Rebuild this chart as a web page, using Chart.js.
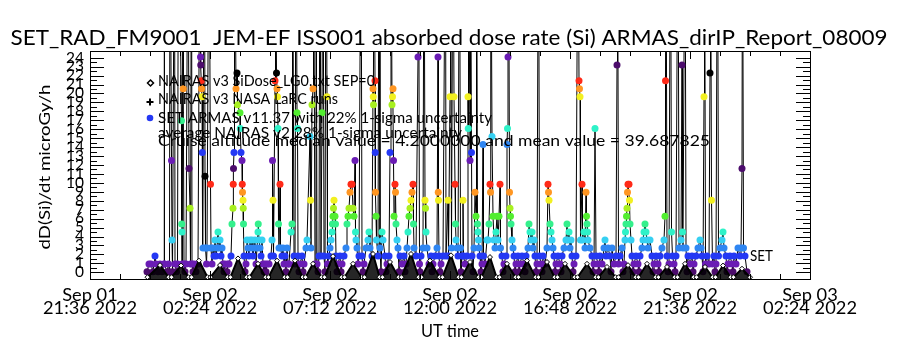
<!DOCTYPE html>
<html><head><meta charset="utf-8">
<script src="https://cdn.jsdelivr.net/npm/chart.js@4.4.1/dist/chart.umd.min.js"></script>
<style>html,body{margin:0;padding:0;background:#fff;}#wrap{width:900px;height:350px;}</style>
</head><body><div id="wrap"><canvas id="c" width="900" height="350"></canvas></div>
<script>
// ---------------- data ----------------
const titleText = 'SET_RAD_FM9001  JEM-EF ISS001 absorbed dose rate (Si) ARMAS_dirIP_Report_08009';
const yAxisTitle = 'dD(Si)/dt microGy/h';
const xAxisTitle = 'UT time';
// hours after Sep 01 21:36 UT
const xTickHours = [0, 4.8, 9.6, 14.4, 19.2, 24.0, 28.8];
const xTickLabels = [['Sep 01','21:36 2022'],['Sep 02','02:24 2022'],['Sep 02','07:12 2022'],['Sep 02','12:00 2022'],['Sep 02','16:48 2022'],['Sep 02','21:36 2022'],['Sep 03','02:24 2022']];
const yTickValues = [0,1,2,3,4,5,6,7,8,9,10,11,12,13,14,15,16,17,18,19,20,21,22,23,24];
const yRange = [-0.75, 24.75];
const legendLines = [
  'NAIRAS v3 SiDose_LG0.txt SEP=0',
  'NAIRAS v3 NASA LaRC runs',
  'SET ARMAS v11.37 with 22% 1-sigma uncertainty',
  'average NAIRAS v2 28% 1-sigma uncertainty',
  'Cruise altitude median value = 4.2000000 and mean value = 39.687825'
];
const sideLabel = 'SET';
// SET measured dose rate [hours after start, microGy/h]
const setSamples = [[2.28,0.05],[2.36,0.94],[2.44,0.94],[2.52,0.05],[2.60,1.83],[2.64,0.94],[2.72,0.05],[2.80,0.94],[2.88,0.05],[2.96,0.94],[2.97,45],[2.98,0.94],[3.08,0.05],[3.14,0.94],[3.18,0.05],[3.20,45],[3.26,12.51],[3.28,3.61],[3.30,0.05],[3.38,45],[3.40,0.94],[3.46,0.05],[3.50,0.94],[3.54,45],[3.66,16.96],[3.67,5.39],[3.68,4.5],[3.69,0.94],[3.72,45],[3.73,20.52],[3.76,0.94],[3.80,0.05],[3.84,0.94],[3.92,45],[3.96,11.62],[4.00,7.17],[4.02,0.94],[4.06,45],[4.08,0.94],[4.12,0.05],[4.16,0.94],[4.24,0.05],[4.32,0.94],[4.40,45],[4.42,24.08],[4.43,23.19],[4.45,21.41],[4.46,20.52],[4.48,19.63],[4.49,13.4],[4.52,2.72],[4.58,45],[4.60,10.73],[4.62,2.72],[4.66,0.94],[4.68,2.72],[4.76,45],[4.82,9.84],[4.84,2.72],[4.88,0.94],[4.92,2.72],[4.96,1.83],[5.00,3.61],[5.04,1.83],[5.08,2.72],[5.12,4.5],[5.16,2.72],[5.20,3.61],[5.24,1.83],[5.28,2.72],[5.32,0.94],[5.36,0.05],[5.40,0.94],[5.48,0.05],[5.52,0.94],[5.56,0.94],[5.64,1.83],[5.68,5.39],[5.72,7.17],[5.73,9.84],[5.74,11.62],[5.76,13.4],[5.78,45],[5.84,20.52],[5.88,22.3],[5.90,18.74],[6.00,17.85],[6.01,16.07],[6.04,13.4],[6.08,12.51],[6.09,9.84],[6.10,8.95],[6.12,8.06],[6.13,7.17],[6.14,5.39],[6.16,1.83],[6.20,0.05],[6.24,0.94],[6.28,3.61],[6.32,2.72],[6.36,1.83],[6.40,3.61],[6.44,2.72],[6.48,3.61],[6.52,1.83],[6.56,2.72],[6.60,3.61],[6.64,0.94],[6.68,2.72],[6.72,4.5],[6.73,5.39],[6.76,3.61],[6.80,2.72],[6.84,1.83],[6.88,3.61],[6.92,0.94],[6.96,0.05],[7.00,0.94],[7.04,0.05],[7.08,0.94],[7.16,0.94],[7.24,1.83],[7.28,3.61],[7.30,12.51],[7.32,8.06],[7.34,1.83],[7.40,21.41],[7.42,45],[7.46,22.3],[7.48,20.52],[7.50,19.63],[7.52,16.07],[7.54,5.39],[7.56,2.72],[7.60,9.84],[7.62,2.72],[7.68,1.83],[7.72,2.72],[7.76,0.94],[7.80,1.83],[7.84,0.05],[7.88,2.72],[7.92,0.94],[7.96,0.94],[8.04,4.5],[8.08,5.39],[8.10,45],[8.16,1.83],[8.20,0.94],[8.24,45],[8.28,17.85],[8.30,16.07],[8.32,1.83],[8.36,0.05],[8.40,0.94],[8.48,1.83],[8.52,0.05],[8.56,0.94],[8.64,2.72],[8.68,3.61],[8.80,15.18],[8.82,8.06],[8.84,2.72],[8.88,18.74],[8.92,20.52],[8.94,45],[9.00,0.94],[9.04,45],[9.08,0.94],[9.12,0.05],[9.16,1.83],[9.20,45],[9.24,1.83],[9.28,17.85],[9.32,45],[9.36,1.83],[9.40,0.05],[9.44,45],[9.48,19.63],[9.50,0.94],[9.56,1.83],[9.60,2.72],[9.64,3.61],[9.68,4.5],[9.70,5.39],[9.72,6.28],[9.74,7.17],[9.76,8.06],[9.80,6.28],[9.82,5.39],[9.84,1.83],[9.88,0.05],[9.92,0.94],[10.00,1.83],[10.04,0.05],[10.08,0.94],[10.16,1.83],[10.24,2.72],[10.28,5.39],[10.32,6.28],[10.36,7.17],[10.40,8.95],[10.44,9.84],[10.48,9.84],[10.52,7.17],[10.56,6.28],[10.60,12.51],[10.62,4.5],[10.64,3.61],[10.68,2.72],[10.72,0.94],[10.76,1.83],[10.84,45],[10.88,1.83],[10.92,0.05],[10.96,0.94],[11.04,2.72],[11.12,3.61],[11.16,4.5],[11.20,2.72],[11.28,1.83],[11.32,20.52],[11.33,19.63],[11.34,18.74],[11.36,45],[11.40,21.41],[11.41,13.4],[11.42,8.95],[11.44,6.28],[11.46,3.61],[11.52,1.83],[11.56,45],[11.60,2.72],[11.64,0.05],[11.68,4.5],[11.72,3.61],[11.80,1.83],[11.84,0.05],[11.88,0.94],[11.96,1.83],[12.00,13.4],[12.04,45],[12.08,18.74],[12.10,19.63],[12.12,20.52],[12.14,12.51],[12.16,6.28],[12.20,9.84],[12.22,8.95],[12.24,5.39],[12.28,3.61],[12.32,2.72],[12.36,0.05],[12.40,1.83],[12.48,0.94],[12.56,1.83],[12.60,0.05],[12.64,0.94],[12.68,2.72],[12.72,4.5],[12.76,6.28],[12.80,7.17],[12.84,8.06],[12.88,8.95],[12.92,9.84],[12.94,5.39],[12.96,2.72],[13.04,1.83],[13.12,24.08],[13.14,45],[13.18,0.94],[13.20,0.05],[13.24,1.83],[13.32,2.72],[13.36,45],[13.40,8.06],[13.42,7.17],[13.44,4.5],[13.48,2.72],[13.56,0.94],[13.64,1.83],[13.68,0.05],[13.72,0.94],[13.80,1.83],[13.88,2.72],[13.92,24.08],[13.93,8.95],[13.94,8.06],[13.96,1.83],[14.00,0.05],[14.04,0.94],[14.12,1.83],[14.22,45],[14.24,1.83],[14.32,8.06],[14.34,1.83],[14.40,19.63],[14.42,45],[14.46,2.72],[14.52,45],[14.56,19.63],[14.60,9.84],[14.62,5.39],[14.64,3.61],[14.68,2.72],[14.72,1.83],[14.78,45],[14.82,2.72],[14.84,0.05],[14.88,1.83],[14.92,8.06],[14.94,1.83],[15.00,0.94],[15.08,1.83],[15.12,19.63],[15.13,16.07],[15.14,45],[15.20,12.51],[15.22,45],[15.26,13.4],[15.28,1.83],[15.32,0.05],[15.36,2.72],[15.40,8.95],[15.44,6.28],[15.46,45],[15.50,5.39],[15.52,4.5],[15.54,3.61],[15.56,2.72],[15.60,1.83],[15.64,0.05],[15.68,0.94],[15.72,14.29],[15.74,1.83],[15.80,0.94],[15.88,3.61],[15.92,3.61],[15.96,5.39],[16.00,9.84],[16.02,8.95],[16.04,45],[16.08,15.18],[16.12,6.28],[16.16,3.61],[16.20,2.72],[16.24,4.5],[16.28,6.28],[16.32,3.61],[16.36,6.28],[16.40,9.84],[16.42,2.72],[16.48,1.83],[16.52,0.05],[16.56,0.94],[16.64,1.83],[16.68,14.29],[16.70,16.07],[16.72,24.08],[16.74,45],[16.78,8.95],[16.80,7.17],[16.82,6.28],[16.84,5.39],[16.88,3.61],[16.92,2.72],[16.96,1.83],[17.00,0.05],[17.04,0.94],[17.12,1.83],[17.16,0.05],[17.20,0.94],[17.28,1.83],[17.36,0.94],[17.40,0.05],[17.44,1.83],[17.52,2.72],[17.56,5.39],[17.60,4.5],[17.64,3.61],[17.68,4.5],[17.72,2.72],[17.76,3.61],[17.80,1.83],[17.84,0.05],[17.88,0.94],[17.94,45],[17.98,1.83],[18.04,0.94],[18.08,0.05],[18.12,1.83],[18.20,0.94],[18.28,2.72],[18.32,9.84],[18.34,8.95],[18.36,8.06],[18.40,5.39],[18.44,4.5],[18.48,3.61],[18.52,2.72],[18.56,1.83],[18.60,0.05],[18.64,0.94],[18.72,1.83],[18.80,0.94],[18.84,0.05],[18.88,1.83],[18.96,2.72],[19.04,3.61],[19.08,5.39],[19.12,3.61],[19.16,4.5],[19.20,2.72],[19.24,3.61],[19.28,1.83],[19.32,0.05],[19.36,0.94],[19.44,1.83],[19.52,45],[19.56,21.41],[19.58,20.52],[19.60,19.63],[19.62,3.61],[19.68,9.84],[19.70,3.61],[19.76,4.5],[19.80,2.72],[19.84,8.95],[19.86,6.28],[19.88,5.39],[19.90,4.5],[19.92,3.61],[20.00,2.72],[20.08,1.83],[20.12,0.05],[20.16,0.94],[20.20,16.07],[20.24,1.83],[20.32,0.94],[20.36,0.05],[20.40,1.83],[20.48,0.94],[20.56,2.72],[20.60,3.61],[20.64,1.83],[20.72,2.72],[20.80,1.83],[20.84,0.05],[20.88,2.72],[20.96,0.94],[21.04,1.83],[21.08,23.19],[21.10,45],[21.14,0.94],[21.20,1.83],[21.28,2.72],[21.32,0.05],[21.36,0.94],[21.40,3.61],[21.42,4.5],[21.44,5.39],[21.46,6.28],[21.48,7.17],[21.50,8.95],[21.52,9.84],[21.56,9.84],[21.58,8.06],[21.60,5.39],[21.64,3.61],[21.68,1.83],[21.72,0.05],[21.76,0.94],[21.84,1.83],[21.92,0.94],[21.96,0.05],[22.00,1.83],[22.08,2.72],[22.12,3.61],[22.16,4.5],[22.20,5.39],[22.24,4.5],[22.28,3.61],[22.32,2.72],[22.40,3.61],[22.48,1.83],[22.52,0.05],[22.56,0.94],[22.64,1.83],[22.72,0.94],[22.76,0.05],[22.80,1.83],[22.88,2.72],[22.96,3.61],[23.00,6.28],[23.02,21.41],[23.04,45],[23.08,1.83],[23.12,0.05],[23.16,0.94],[23.22,45],[23.26,4.5],[23.30,1.83],[23.36,0.94],[23.40,0.05],[23.44,1.83],[23.52,45],[23.56,2.72],[23.64,3.61],[23.68,23.19],[23.70,4.5],[23.72,2.72],[23.80,45],[23.84,2.72],[23.88,0.05],[23.92,1.83],[24.00,0.94],[24.08,1.83],[24.12,0.05],[24.16,0.94],[24.24,1.83],[24.32,2.72],[24.40,3.61],[24.44,2.72],[24.48,1.83],[24.52,0.05],[24.56,19.63],[24.58,45],[24.62,0.94],[24.68,1.83],[24.76,0.94],[24.80,22.3],[24.82,45],[24.86,8.06],[24.90,0.94],[24.96,1.83],[25.00,0.05],[25.04,0.94],[25.10,45],[25.14,1.83],[25.20,2.72],[25.28,3.61],[25.32,4.5],[25.36,2.72],[25.44,1.83],[25.48,0.05],[25.52,0.94],[25.60,1.83],[25.68,0.94],[25.72,0.05],[25.76,1.83],[25.84,0.94],[25.92,2.72],[26.00,1.83],[26.04,2.72],[26.08,11.62],[26.10,45],[26.14,2.72],[26.20,1.83],[26.28,0.05]];
// NAIRAS v3 model dose rate [hours after start, microGy/h]
const nairasSamples = [[2.30,-0.55],[2.80,0.8],[3.14,-0.55],[3.26,-0.55],[3.64,0.75],[3.94,-0.55],[4.06,-0.55],[4.36,1.3],[4.70,-0.55],[4.82,-0.55],[5.20,0.8],[5.50,-0.55],[5.62,-0.55],[5.92,1.55],[6.26,-0.55],[6.38,-0.55],[6.72,0.95],[7.02,-0.55],[7.14,-0.55],[7.48,1.3],[7.78,-0.55],[7.90,-0.55],[8.20,1.3],[8.50,-0.55],[8.62,-0.55],[8.92,0.95],[9.26,-0.55],[9.38,-0.55],[9.72,1.8],[10.06,-0.55],[10.18,-0.55],[10.52,0.95],[10.86,-0.55],[10.98,-0.55],[11.32,2.05],[11.58,-0.55],[11.70,-0.55],[12.00,1.15],[12.34,-0.55],[12.46,-0.55],[12.84,2.05],[13.14,-0.55],[13.26,-0.55],[13.60,1.3],[13.98,-0.55],[14.10,-0.55],[14.44,1.9],[14.74,-0.55],[14.86,-0.55],[15.20,1.15],[15.54,-0.55],[15.66,-0.55],[16.00,1.7],[16.26,-0.55],[16.38,-0.55],[16.68,0.95],[17.02,-0.55],[17.14,-0.55],[17.48,1.3],[17.82,-0.55],[17.94,-0.55],[18.28,1.15],[18.58,-0.55],[18.70,-0.55],[19.00,0.95],[19.38,-0.55],[19.50,-0.55],[19.88,0.95],[20.22,-0.55],[20.34,-0.55],[20.68,0.6],[21.02,-0.55],[21.14,-0.55],[21.52,0.8],[21.82,-0.55],[21.94,-0.55],[22.28,0.95],[22.62,-0.55],[22.74,-0.55],[23.08,0.6],[23.38,-0.55],[23.50,-0.55],[23.80,0.95],[24.14,-0.55],[24.26,-0.55],[24.60,0.6],[24.90,-0.55],[25.02,-0.55],[25.32,0.75],[25.62,-0.55],[25.74,-0.55],[26.08,0.4],[26.40,-0.55]];

// ---------------- styles ----------------
const levelColors = ['#4c0c6c','#6a1cb4','#2438f4','#2f86f2','#36d0f2','#2ef2c8','#34f08c','#52ee30','#a8f020','#f2f020','#ff9622','#ff2a18','#000000'];
function colorFor(v){
  if (v == null) return '#000';
  const k = Math.round((v - 0.05) / 0.89);
  return levelColors[((k % 13) + 13) % 13];
}
const FONT = 'Lato, "DejaVu Sans", sans-serif';
const WEIGHT = '400';

function drawText(ctx, text, x, y, size, align, sx, rot) {
  ctx.save();
  ctx.font = WEIGHT + ' ' + size + 'px ' + FONT;
  ctx.fillStyle = '#000';
  ctx.textBaseline = 'middle';
  ctx.textAlign = align || 'left';
  ctx.translate(x, y);
  if (rot) ctx.rotate(rot);
  ctx.scale(sx, 1);
  ctx.fillText(text, 0, 0);
  ctx.restore();
}
function scaleFor(ctx, text, size, width) {
  ctx.save();
  ctx.font = WEIGHT + ' ' + size + 'px ' + FONT;
  const w = ctx.measureText(text).width;
  ctx.restore();
  return width / w;
}
function fitText(ctx, text, x, y, width, size, align, rot) {
  drawText(ctx, text, x, y, size, align, scaleFor(ctx, text, size, width), rot);
}

const decor = {
  id: 'decor',
  afterDraw(chart) {
    const ctx = chart.ctx, a = chart.chartArea;
    const xs = chart.scales.x, ys = chart.scales.y;
    ctx.save();
    // frame
    ctx.strokeStyle = '#000'; ctx.lineWidth = 1;
    ctx.strokeRect(Math.round(a.left) + 0.5, Math.round(a.top) + 0.5, Math.round(a.right - a.left), Math.round(a.bottom - a.top));
    // y ticks (inward, both sides): majors at labels, minors half way
    ctx.beginPath();
    yTickValues.forEach((v, i) => {
      const py = Math.round(ys.getPixelForValue(v)) + 0.5;
      ctx.moveTo(a.left, py); ctx.lineTo(a.left + 14, py);
      ctx.moveTo(a.right, py); ctx.lineTo(a.right - 14, py);
      if (i < yTickValues.length - 1) {
        const pm = Math.round(ys.getPixelForValue((v + yTickValues[i + 1]) / 2)) + 0.5;
        ctx.moveTo(a.left, pm); ctx.lineTo(a.left + 7, pm);
        ctx.moveTo(a.right, pm); ctx.lineTo(a.right - 7, pm);
      }
    });
    // x ticks (inward, top and bottom): majors at labels, 3 minors between
    xTickHours.forEach((h, i) => {
      const px = Math.round(xs.getPixelForValue(h)) + 0.5;
      ctx.moveTo(px, a.bottom); ctx.lineTo(px, a.bottom - 8);
      ctx.moveTo(px, a.top); ctx.lineTo(px, a.top + 8);
      if (i < xTickHours.length - 1) {
        for (let k = 1; k < 4; k++) {
          const pm = Math.round(xs.getPixelForValue(h + (xTickHours[i + 1] - h) * k / 4)) + 0.5;
          ctx.moveTo(pm, a.bottom); ctx.lineTo(pm, a.bottom - 5);
          ctx.moveTo(pm, a.top); ctx.lineTo(pm, a.top + 5);
        }
      }
    });
    ctx.stroke();
    // tick labels
    const syY = scaleFor(ctx, '24', 15, 18);
    yTickValues.forEach(v => {
      drawText(ctx, String(v), a.left - 6, ys.getPixelForValue(v), 15, 'right', syY);
    });
    const sxX = scaleFor(ctx, '21:36 2022', 17, 94);
    xTickHours.forEach((h, i) => {
      const px = xs.getPixelForValue(h);
      drawText(ctx, xTickLabels[i][0], px, 296, 17, 'center', sxX);
      drawText(ctx, xTickLabels[i][1], px, 309, 17, 'center', sxX);
    });
    // title and axis titles
    fitText(ctx, titleText, 449, 38, 877, 21, 'center');
    fitText(ctx, xAxisTitle, 450, 332, 58, 17, 'center');
    fitText(ctx, yAxisTitle, 45, 167, 165, 16, 'center', -Math.PI / 2);
    // legend
    const lx = 158;
    fitText(ctx, legendLines[0], lx, 81, 217, 15, 'left');
    fitText(ctx, legendLines[1], lx, 99, 180, 15, 'left');
    fitText(ctx, legendLines[2], lx, 118, 334, 15, 'left');
    fitText(ctx, legendLines[3], lx, 133, 304, 15, 'left');
    fitText(ctx, legendLines[4], lx, 141, 552, 15, 'left');
    fitText(ctx, sideLabel, 750, 256, 23, 15, 'left');
    // legend symbols
    ctx.lineWidth = 1.5; ctx.strokeStyle = '#000';
    ctx.beginPath();
    ctx.moveTo(150.5, 80); ctx.lineTo(153.5, 83); ctx.lineTo(150.5, 86); ctx.lineTo(147.5, 83); ctx.closePath();
    ctx.stroke();
    ctx.lineWidth = 2;
    ctx.beginPath();
    ctx.moveTo(146.5, 102); ctx.lineTo(153.5, 102);
    ctx.moveTo(150, 98.5); ctx.lineTo(150, 105.5);
    ctx.stroke();
    ctx.fillStyle = '#2438f4';
    ctx.beginPath(); ctx.arc(150, 118, 3.3, 0, Math.PI * 2); ctx.fill();
    ctx.restore();
  }
};

new Chart(document.getElementById('c'), {
  type: 'line',
  data: {
    datasets: [
      {
        label: 'NAIRAS v3 SiDose',
        data: nairasSamples.map(p => ({x: p[0], y: p[1]})),
        borderColor: '#000', borderWidth: 2,
        backgroundColor: 'rgba(0,0,0,0.85)', fill: 'start',
        pointStyle: 'rectRot', pointRadius: 2.5, pointBorderWidth: 1,
        pointBorderColor: '#000', pointBackgroundColor: '#fff',
        tension: 0, order: 1, clip: 0
      },
      {
        label: 'SET ARMAS',
        data: setSamples.map(p => ({x: p[0], y: p[1]})),
        borderColor: '#000', borderWidth: 1, fill: false,
        pointRadius: 3.5, pointBorderWidth: 0,
        pointBackgroundColor: c => colorFor(c.raw ? c.raw.y : null),
        tension: 0, order: 2, clip: 0
      }
    ]
  },
  options: {
    responsive: false, animation: false, devicePixelRatio: 1,
    layout: { padding: { top: 51, right: 90, left: 0, bottom: 0 } },
    plugins: { legend: { display: false }, tooltip: { enabled: false }, title: { display: false } },
    scales: {
      x: {
        type: 'linear', min: xTickHours[0], max: xTickHours[xTickHours.length - 1],
        afterBuildTicks: s => { s.ticks = xTickHours.map(v => ({ value: v })); },
        afterFit: s => { s.height = 71; },
        grid: { display: false, drawTicks: false }, border: { display: false },
        ticks: { display: false }
      },
      y: {
        type: 'linear', min: yRange[0], max: yRange[1],
        afterBuildTicks: s => { s.ticks = yTickValues.map(v => ({ value: v })); },
        afterFit: s => { s.width = 90; },
        grid: { display: false, drawTicks: false }, border: { display: false },
        ticks: { display: false }
      }
    }
  },
  plugins: [decor]
});
</script>
</body></html>
